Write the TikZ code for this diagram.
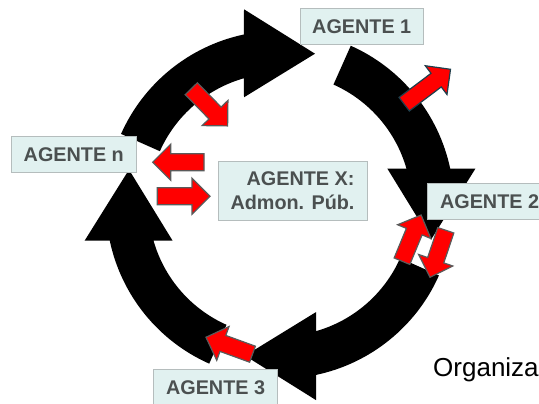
\documentclass[tikz,border=0pt]{standalone}
\usepackage{fontspec}
\setmainfont{Liberation Sans}
\definecolor{boxfill}{HTML}{E1F1F0}
\definecolor{boxline}{HTML}{B5BDBD}
\definecolor{boxtext}{HTML}{4B5050}
\definecolor{arrowred}{HTML}{FF0000}
\definecolor{arrowedge}{HTML}{5A5A5A}
\definecolor{arrowteal}{HTML}{1F3F4C}

% red block arrow: [extra style]{back midpoint}{direction}{length}
\newcommand{\redarrow}[4][]{%
  \draw[redarrow,#1,shift={#2},rotate=#3]
    (0,-8.5) -- ({#4-18},-8.5) -- ({#4-18},-18) -- (#4,0)
    -- ({#4-18},18) -- ({#4-18},8.5) -- (0,8.5) -- cycle;}

\begin{document}
\begin{tikzpicture}[x=1pt,y=1pt,
  agentbox/.style={draw=boxline, fill=boxfill, line width=1pt, text=boxtext,
    font=\fontsize{19.8}{23.3}\selectfont\bfseries, inner sep=0pt, minimum height=36},
  redarrow/.style={fill=arrowred, draw=arrowedge, line width=1.2pt, line join=miter},
  cycleshaft/.style={fill=black}]
\useasboundingbox (0,0) rectangle (539,404);
\clip (0,0) rectangle (539,404);

% four curved block arrows running clockwise round a common centre
\coordinate (C) at (280,199.3);
\foreach \r in {0,-90,-180,-270}{
  \fill[cycleshaft, shift={(C)}, rotate=\r]
    (156:174) arc[start angle=156, end angle=101.95, radius=174]
    -- (-36,195.4) -- (35,151) -- (-36,107.4)
    -- (105.9:131.5) arc[start angle=105.9, end angle=156, radius=131.5] -- cycle;
}

% agent labels
\node[agentbox, minimum width=123.5] (a1) at (361.75,377.7) {AGENTE 1};
\node[agentbox, minimum width=125.6] (an) at (73.8,249) {AGENTE n};
\node[agentbox, minimum width=149, minimum height=59, align=right]
  (ax) at (292.5,213.2) {AGENTE X:\\Admon. Púb.};
\node[agentbox, minimum width=124] (a2) at (489.6,202) {AGENTE 2};
\node[agentbox, minimum width=124.7] (a3) at (215.6,16) {AGENTE 3};
\node[anchor=base west, inner sep=0pt, font=\fontsize{26}{30}\selectfont] (org)
  at (433,27) {Organiza};

% exchanges between the agents
\redarrow{(191.3,315.3)}{-45.7}{52}
\redarrow{(204,241.8)}{180}{51.3}
\redarrow{(157.3,207.8)}{0}{52.7}
\redarrow[draw=arrowteal]{(404.2,299.8)}{37}{58}
\redarrow{(402,142.8)}{67.5}{50}
\redarrow{(445.8,173.7)}{-108.6}{49.6}
\redarrow{(252.5,49.8)}{160}{49.5}
\end{tikzpicture}
\end{document}
